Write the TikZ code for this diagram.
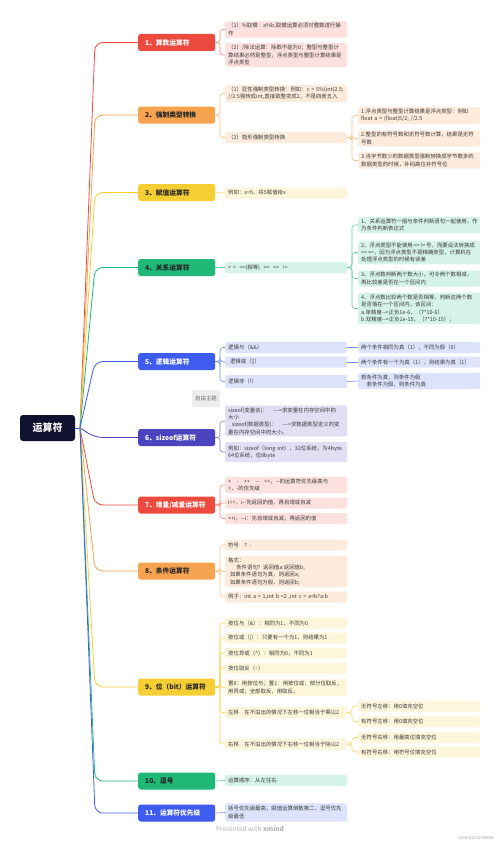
\documentclass[tikz,border=0pt]{standalone}
\usepackage{fontspec}
\setmainfont{Noto Sans CJK SC}
\newcommand{\mm}{\mbox{-}\mbox{-}}
\definecolor{cred}{HTML}{EC4A3F}
\definecolor{cora}{HTML}{F6A34F}
\definecolor{cyel}{HTML}{F4CE33}
\definecolor{cgrn}{HTML}{1EB877}
\definecolor{cblu}{HTML}{3E5CF0}
\definecolor{cind}{HTML}{4C43BF}
\definecolor{lred}{HTML}{FCE1DF}
\definecolor{lora}{HTML}{FDEBDC}
\definecolor{lyel}{HTML}{FEF6DA}
\definecolor{lgrn}{HTML}{D5F3E6}
\definecolor{lblu}{HTML}{DEE3FD}
\definecolor{lind}{HTML}{E0DFF4}
\definecolor{croot}{HTML}{10112F}
\definecolor{ctxt}{HTML}{3A3A3A}
\begin{document}
\begin{tikzpicture}[x=1pt,y=-1pt,
 mainbox/.style={rounded corners=2.5pt, anchor=west, inner xsep=7pt, inner ysep=0pt, text width=63pt, align=left, minimum height=17pt, font=\fontsize{6.7}{8}\selectfont\bfseries},
 subbox/.style={rounded corners=2pt, anchor=west, inner xsep=3pt, inner ysep=2pt, text width=116pt, align=left, minimum height=11pt, font=\fontsize{5.4}{7.3}\selectfont, text=ctxt},
 trunk/.style={line width=0.8pt, rounded corners=8pt},
 twig/.style={line width=0.6pt, rounded corners=3pt}]
\fill[white] (0,0) rectangle (500,843);
\useasboundingbox (0,0) rectangle (500,843);
\coordinate (o) at (80,428);
\coordinate (rx) at (95,0);
\coordinate (bx) at (220,0);
\coordinate (bx2) at (352,0);
% root
\node[fill=croot, rounded corners=3pt, minimum width=55pt, minimum height=26pt, text=white, font=\fontsize{10}{12}\selectfont\bfseries] (root) at (47.5,428) {运算符};
% main topics
\node[mainbox, fill=cred, text=white] (m1) at (138,42.5) {1、算数运算符};
\node[mainbox, fill=cora, text=black!85] (m2) at (138,115) {2、强制类型转换};
\node[mainbox, fill=cyel, text=black!85] (m3) at (138,192.5) {3、赋值运算符};
\node[mainbox, fill=cgrn, text=black!85] (m4) at (138,267.5) {4、关系运算符};
\node[mainbox, fill=cblu, text=white] (m5) at (138,361.5) {5、逻辑运算符};
\node[mainbox, fill=cind, text=white] (m6) at (138,437.5) {6、sizeof运算符};
\node[mainbox, fill=cred, text=white] (m7) at (138,505) {7、增量/减量运算符};
\node[mainbox, fill=cora, text=black!85] (m8) at (138,571) {8、条件运算符};
\node[mainbox, fill=cyel, text=black!85] (m9) at (138,687) {9、位（bit）运算符};
\node[mainbox, fill=cgrn, text=black!85] (m10) at (138,781) {10、逗号};
\node[mainbox, fill=cblu, text=white] (m11) at (138,813) {11、运算符优先级};
% trunks
\draw[line width=0.8pt, cind] (root.east) -- (o);
\foreach \m/\c in {m1/cred,m2/cora,m3/cyel,m4/cgrn,m5/cblu,m6/cind,m7/cred,m8/cora,m9/cyel,m10/cgrn,m11/cblu}
  \draw[trunk,\c] (o) -- (rx |- \m.west) -- (\m.west);
% 1
\node[subbox, fill=lred] (a1) at (225,29.5) {（1）\%取模：a\%b,取模运算必须对整数进行操\\作};
\node[subbox, fill=lred] (a2) at (225,55) {（2）/除法运算：除数不能为0；整型与整型计\\算结果必然是整型，浮点类型与整型计算结果是\\浮点类型};
\foreach \c in {a1,a2} \draw[twig,cred!65] (m1.east) -- (bx |- m1.east) -- (bx |- \c.west) -- (\c.west);
% 2
\node[subbox, fill=lora] (b1) at (225,93.5) {（1）显性强制类型转换：例如：c = 5\%(int)2.5;\\//2.5强转成int,直接取整变成2，不是四舍五入};
\node[subbox, fill=lora] (b2) at (225,137.5) {（2）隐形强制类型转换};
\foreach \c in {b1,b2} \draw[twig,cora!70] (m2.east) -- (bx |- m2.east) -- (bx |- \c.west) -- (\c.west);
\node[subbox, fill=lora] (b21) at (358,115.5) {1.浮点类型与整型计算结果是浮点类型：例如\\float a = (float)5/2; //2.5};
\node[subbox, fill=lora] (b22) at (358,138.5) {2.整型的有符号数和无符号数计算，结果是无符\\号数};
\node[subbox, fill=lora] (b23) at (358,160.5) {3.当字节数少的数据类型强制转换成字节数多的\\数据类型的时候，补码高位补符号位};
\foreach \c in {b21,b22,b23} \draw[twig,cora!70] (b2.east) -- (bx2 |- b2.east) -- (bx2 |- \c.west) -- (\c.west);
% 3
\node[subbox, fill=lyel] (c1) at (225,193) {例如：x=5，将5赋值给x};
\draw[twig,cyel!80] (m3.east) -- (c1.west);
% 4
\node[subbox, fill=lgrn] (d1) at (225,267.5) {> <\ \ ==(相等)\ \ >=\ \ <=\ \ !=};
\draw[twig,cgrn!70] (m4.east) -- (d1.west);
\node[subbox, fill=lgrn] (d11) at (358,225) {1、关系运算符一般与条件判断语句一起使用，作\\为条件判断表达式};
\node[subbox, fill=lgrn] (d12) at (358,252.5) {\mbox{2、浮点类型不能使用\,==\,!=\,号，而要设法转换成}\\\mbox{>=\,<=，因为浮点类型不是精确类型，计算机在}\\处理浮点类型的时候有误差};
\node[subbox, fill=lgrn] (d13) at (358,278.5) {3、浮点数判断两个数大小，可令两个数相减，\\再比较差是否在一个区间内};
\node[subbox, fill=lgrn] (d14) at (358,308.5) {4、浮点数比较两个数是否相等，判断这两个数\\是否落在一个区间内，该区间：\\a.单精度\mm{}>正负1e-6，（7*10-6）\\b.双精度\mm{}>正负1e-15，（7*10-15）；};
\foreach \c in {d11,d12,d13,d14} \draw[twig,cgrn!70] (d1.east) -- (bx2 |- d1.east) -- (bx2 |- \c.west) -- (\c.west);
% 5
\node[subbox, fill=lblu] (e1) at (225,347.5) {逻辑与（\&\&）};
\node[subbox, fill=lblu] (e2) at (225,362) {\ 逻辑或（||）};
\node[subbox, fill=lblu, minimum height=13pt] (e3) at (225,381.5) {逻辑非（!）};
\foreach \c in {e1,e2,e3} \draw[twig,cblu!70] (m5.east) -- (bx |- m5.east) -- (bx |- \c.west) -- (\c.west);
\node[subbox, fill=lblu] (e11) at (358,347.5) {两个条件相同为真（1），不同为假（0）};
\node[subbox, fill=lblu] (e21) at (358,362) {两个条件有一个为真（1），则结果为真（1）};
\node[subbox, fill=lblu] (e31) at (358,381) {若条件为真，则条件为假\\\ \ \ 若条件为假，则条件为真};
\draw[twig,cblu!70] (e1.east) -- (e11.west);
\draw[twig,cblu!70] (e2.east) -- (e21.west);
\draw[twig,cblu!70] (e3.east) -- (e31.west);
\node[fill=black!7, rounded corners=2pt, minimum width=28pt, minimum height=17pt, font=\fontsize{5.4}{7}\selectfont, text=black!60, inner sep=1pt] (free) at (206,398.5) {自由主题};
% 6
\node[subbox, fill=lind] (f1) at (225,421) {sizeof(变量名)：\quad \mm{}\mbox{-}>求变量在内存空间中的\\大小\\\ \ sizeof(数据类型)：\quad \mm{}\mbox{-}>求数据类型定义的变\\量在内存空间中的大小。};
\node[subbox, fill=lind, inner ysep=3.5pt] (f2) at (225,452) {例如：sizeof（long int），32位系统，为4byte\\64位系统，位8byte};
\foreach \c in {f1,f2} \draw[twig,cind!70] (m6.east) -- (bx |- m6.east) -- (bx |- \c.west) -- (\c.west);
% 7
\node[subbox, fill=lred] (g1) at (225,485) {+\quad -\quad ++\quad \mm{}\quad ++，\mm{}的运算符优先级高与\\+，-的优先级};
\node[subbox, fill=lred] (g2) at (225,503) {i++，i\mm{}先返回的值，再自增或自减};
\node[subbox, fill=lred] (g3) at (225,518.5) {++i，\mm{}i：先自增或自减，再返回的值};
\foreach \c in {g1,g2,g3} \draw[twig,cred!65] (m7.east) -- (bx |- m7.east) -- (bx |- \c.west) -- (\c.west);
% 8
\node[subbox, fill=lora] (h1) at (225,545) {符号\quad ? :};
\node[subbox, fill=lora] (h2) at (225,571.5) {格式：\\\hspace{1.5em}条件语句? 返回值a:返回值b;\\\ 如果条件语句为真，则返回a;\\\ 如果条件语句为假，则返回b;};
\node[subbox, fill=lora] (h3) at (225,597) {例子：int a = 1,int b =2 ,int c = a<b?a:b};
\foreach \c in {h1,h2,h3} \draw[twig,cora!70] (m8.east) -- (bx |- m8.east) -- (bx |- \c.west) -- (\c.west);
% 9
\node[subbox, fill=lyel] (k1) at (225,623) {按位与（\&）：相同为1，不同为0};
\node[subbox, fill=lyel] (k2) at (225,638) {按位或（|）：只要有一个为1，则结果为1};
\node[subbox, fill=lyel] (k3) at (225,653) {按位异或（\^{}）：相同为0，不同为1};
\node[subbox, fill=lyel] (k4) at (225,668) {按位取反（\textasciitilde{}）};
\node[subbox, fill=lyel] (k5) at (225,687.5) {置0：用按位与；置1：用按位或；部分位取反，\\用异或；全部取反，用取反。};
\node[subbox, fill=lyel] (k6) at (225,712.5) {左移\quad 在不溢出的情况下左移一位相当于乘以2};
\node[subbox, fill=lyel] (k7) at (225,744) {右移\quad 在不溢出的情况下右移一位相当于除以2};
\foreach \c in {k1,k2,k3,k4,k5,k6,k7} \draw[twig,cyel!85] (m9.east) -- (bx |- m9.east) -- (bx |- \c.west) -- (\c.west);
\node[subbox, fill=lyel] (k61) at (358,706) {无符号左移：用0填充空位};
\node[subbox, fill=lyel] (k62) at (358,721.5) {有符号左移：用0填充空位};
\node[subbox, fill=lyel] (k71) at (358,737.5) {无符号右移：用最高位填充空位};
\node[subbox, fill=lyel] (k72) at (358,752) {有符号右移：用符号位填充空位};
\foreach \c in {k61,k62} \draw[twig,cyel!85] (k6.east) -- (bx2 |- k6.east) -- (bx2 |- \c.west) -- (\c.west);
\foreach \c in {k71,k72} \draw[twig,cyel!85] (k7.east) -- (bx2 |- k7.east) -- (bx2 |- \c.west) -- (\c.west);
% 10
\node[subbox, fill=lgrn] (p1) at (225,780.5) {运算顺序：从左往右};
\draw[twig,cgrn!70] (m10.east) -- (p1.west);
% 11
\node[subbox, fill=lblu, inner ysep=3pt] (q1) at (225,812.5) {括号优先级最高，赋值运算倒数第二，逗号优先\\级最低};
\draw[twig,cblu!70] (m11.east) -- (q1.west);
% footer
\node[font=\fontsize{6.5}{8}\selectfont, text=black!30] (ft) at (250,829) {Presented with \textbf{xmind}};
\node[font=\fontsize{3.8}{4}\selectfont, text=black!40, anchor=east] (csdn) at (497,838.5) {CSDN @ZC12345689};
\end{tikzpicture}
\end{document}
